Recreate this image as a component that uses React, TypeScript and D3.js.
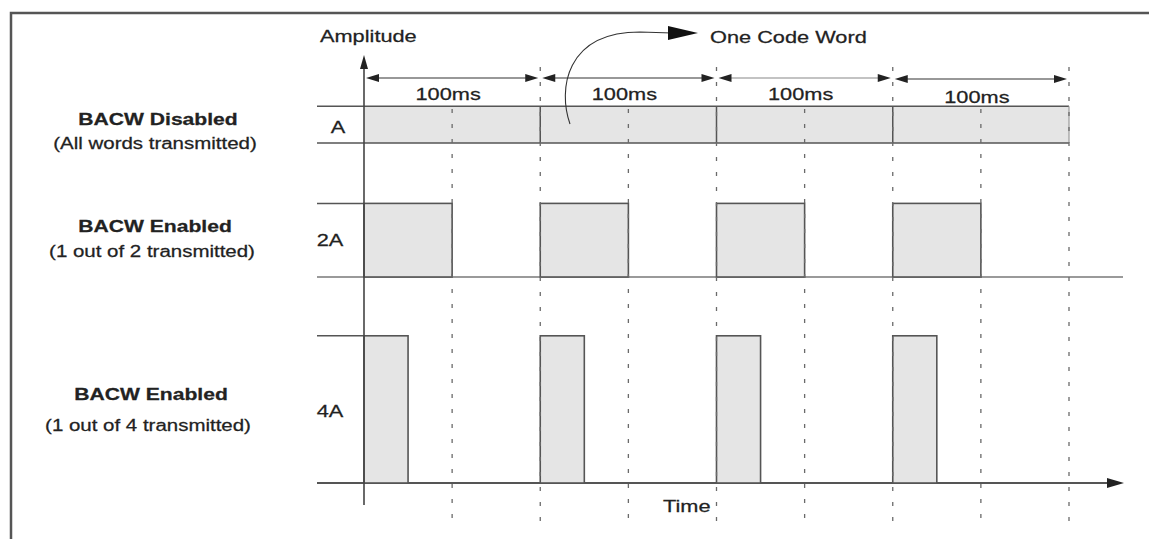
import React from "react";
import * as d3 from "d3";

// ---- data ----
const codeWordTimes = [0, 100, 200, 300]; // start of each code word (ms)
const wordPeriod = 100; // ms
const midMarks = [50, 150, 250, 350]; // dotted half-period marks (ms)
const rowTitles = ["BACW Disabled", "BACW Enabled", "BACW Enabled"];
const rowSubtitles = ["(All words transmitted)", "(1 out of 2 transmitted)", "(1 out of 4 transmitted)"];
const ampLabels = ["A", "2A", "4A"];
const amplitudes = [1, 2, 4];
const pulseDurations = [100, 50, 25]; // ms per transmitted word
const periodLabel = "100ms";

const W = 1149, H = 539;
const SX = 1.28;
const FONT = "'Liberation Sans', Arial, Helvetica, sans-serif";
const INK = "#222";
const LINE = "#555";

const x = d3.scaleLinear().domain([0, 400]).range([364, 1069]);
const amp = d3.scaleLinear().domain([0, 1]).range([0, 36.8]);
const rowBase = [143, 277, 483];
const titleY = [125, 232, 400];
const subY = [149, 257, 431];
const titleX = [158, 155, 151];
const ampY = [133, 246, 417];

function T(props: { x: number; y: number; s?: number; w?: any; a?: string; fill?: string; children: any }) {
  const { x: tx, y: ty, s = 17, w = "normal", a = "middle", fill = INK, children } = props;
  return (
    <text transform={`translate(${tx},${ty}) scale(${SX},1)`} textAnchor={a as any} fontFamily={FONT} fontSize={s} fontWeight={w}
      fill={fill} stroke={fill} strokeWidth={0.25}>
      {children}
    </text>
  );
}

function head(tipX: number, tipY: number, dir: "l" | "r" | "u", len: number, hw: number) {
  if (dir === "r") return `M${tipX},${tipY} L${tipX - len},${tipY - hw} L${tipX - len},${tipY + hw} Z`;
  if (dir === "l") return `M${tipX},${tipY} L${tipX + len},${tipY - hw} L${tipX + len},${tipY + hw} Z`;
  return `M${tipX},${tipY} L${tipX - hw},${tipY + len} L${tipX + hw},${tipY + len} Z`;
}

export default function App() {
  const boundaries = [...codeWordTimes.slice(1), codeWordTimes[codeWordTimes.length - 1] + wordPeriod];
  const dimY = 78;
  const curve = "M570,124 C558,90 565,32 640,32 L672,33";
  return (
    <svg width={W} height={H} style={{ position: "absolute", left: 0, top: 0, background: "#fff" }}>
      <rect x={0} y={0} width={W} height={H} fill="#fff" />
      {/* frame */}
      <path d={`M11,${H} L11,13 L${W},13`} fill="none" stroke="#555" strokeWidth={2.5} />

      {/* Row 1: continuous */}
      <rect x={x(0)} y={rowBase[0] - amp(amplitudes[0])} width={x(400) - x(0)} height={amp(amplitudes[0])} fill="#e5e5e5" />
      <line x1={317} x2={x(400)} y1={rowBase[0] - amp(amplitudes[0])} y2={rowBase[0] - amp(amplitudes[0])} stroke={LINE} strokeWidth={1.5} />
      <line x1={317} x2={x(400)} y1={rowBase[0]} y2={rowBase[0]} stroke={LINE} strokeWidth={1.5} />
      {boundaries.slice(0, 3).map((t, i) => (
        <line key={"s" + i} x1={x(t)} x2={x(t)} y1={rowBase[0] - amp(1)} y2={rowBase[0]} stroke={LINE} strokeWidth={1.5} />
      ))}
      <line x1={x(400)} x2={x(400)} y1={rowBase[0] - amp(1)} y2={rowBase[0]} stroke="#999" strokeWidth={1.2} />

      {/* Row 2 & 3 baselines and top marks */}
      <line x1={317} x2={1123} y1={rowBase[1]} y2={rowBase[1]} stroke="#9a9a9a" strokeWidth={2} />
      <line x1={317} x2={x(0)} y1={rowBase[1] - amp(amplitudes[1])} y2={rowBase[1] - amp(amplitudes[1])} stroke={LINE} strokeWidth={1.5} />
      <line x1={317} x2={1108} y1={rowBase[2]} y2={rowBase[2]} stroke={LINE} strokeWidth={1.8} />
      <path d={head(1124, rowBase[2], "r", 17, 5)} fill="#222" />
      <line x1={317} x2={x(0)} y1={rowBase[2] - amp(amplitudes[2])} y2={rowBase[2] - amp(amplitudes[2])} stroke={LINE} strokeWidth={1.5} />

      {/* pulses */}
      {[1, 2].map((r) =>
        codeWordTimes.map((t, i) => (
          <rect key={r + "-" + i} x={x(t)} y={rowBase[r] - amp(amplitudes[r])} width={x(t + pulseDurations[r]) - x(t)} height={amp(amplitudes[r])}
            fill="#e5e5e5" stroke={LINE} strokeWidth={1.6} />
        ))
      )}

      {/* dotted vertical lines */}
      {boundaries.map((t, i) => (
        <line key={"b" + i} x1={x(t)} x2={x(t)} y1={67} y2={525} stroke="#6a6a6a" strokeWidth={1.3} strokeDasharray="4,11" />
      ))}
      {midMarks.map((t, i) => (
        <line key={"m" + i} x1={x(t)} x2={x(t)} y1={109} y2={525} stroke="#6a6a6a" strokeWidth={1.3} strokeDasharray="4,11" />
      ))}

      {/* y axis */}
      <line x1={x(0)} x2={x(0)} y1={505} y2={66} stroke="#444" strokeWidth={1.6} />
      <path d={head(x(0), 55, "u", 14, 4)} fill="#222" />

      {/* dimension arrows */}
      {codeWordTimes.map((t, i) => {
        const a = x(t) + 2, b = x(t + wordPeriod) - 2;
        const yy = dimY + (i === 3 ? 1 : 0);
        return (
          <g key={"d" + i}>
            <line x1={a + 6} x2={b - 6} y1={yy} y2={yy} stroke={i === 2 ? "#888" : "#333"} strokeWidth={1.2} />
            <path d={head(a, yy, "l", 13, 4)} fill="#222" />
            <path d={head(b, yy, "r", 13, 4)} fill="#222" />
            <T x={x(t + wordPeriod / 2) - 4} y={i === 3 ? 103 : 100}>{periodLabel}</T>
          </g>
        );
      })}

      {/* One code word curved arrow */}
      <path d={curve} fill="none" stroke="#333" strokeWidth={1.1} />
      <path d="M698,33 L668,26 L668,40 Z" fill="#111" />
      <T x={710} y={43} a="start">One Code Word</T>

      {/* axis labels */}
      <T x={320} y={42} a="start">Amplitude</T>
      <T x={663} y={512} a="start">Time</T>

      {/* amplitude labels */}
      {ampLabels.map((l, i) => (
        <T key={"a" + i} x={i === 0 ? 338 : 330} y={ampY[i]}>{l}</T>
      ))}

      {/* row labels */}
      {rowTitles.map((t, i) => (
        <g key={"r" + i}>
          <T x={titleX[i]} y={titleY[i]} w="bold" s={16.5}>{t}</T>
          <T x={titleX[i] - 3} y={subY[i]} s={16}>{rowSubtitles[i]}</T>
        </g>
      ))}
    </svg>
  );
}
